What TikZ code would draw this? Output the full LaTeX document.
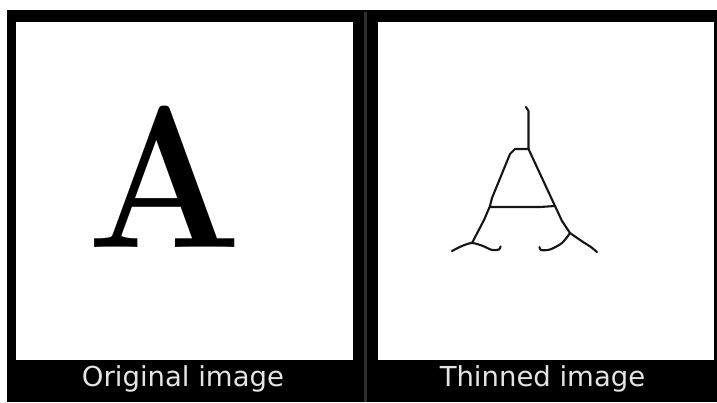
\documentclass[tikz,border=0pt]{standalone}
\usepackage{fontspec}
\usepackage{graphicx}
\setmainfont{DejaVu Sans}
\newfontfamily\bigserif{Latin Modern Roman}
\definecolor{capgray}{HTML}{E4E4E4}
\definecolor{divgray}{HTML}{2E2E2E}
\definecolor{inkc}{HTML}{151515}
\tikzset{
  caption/.style={text=capgray, font=\fontsize{27.5}{30}\selectfont, anchor=base, inner sep=0pt},
  skel/.style={draw=inkc, line width=2.1pt, line join=round, line cap=round},
}
\begin{document}
\begin{tikzpicture}[x=1pt,y=-1pt]
\useasboundingbox (0,0) rectangle (717,402);
\fill[white] (0,0) rectangle (717,402);
% outer black frame
\fill[black] (7,10) rectangle (717,402);
% divider line
\fill[divgray] (363.5,12) rectangle (366.5,402);
% panels
\fill[white] (16,22) rectangle (353,360);
\fill[white] (378,22) rectangle (714,360);
% original letter
\node[anchor=base, inner sep=0pt, text=black, font=\bigserif\bfseries\fontsize{202}{202}\selectfont] (bigA) at (164.5,247) {\scalebox{0.9}[1]{A}};
% thinned skeleton
\draw[skel] (526,107) -- (528.5,111) -- (528.5,149);
\draw[skel] (528.5,149) -- (515,149) -- (510,154) -- (492,198) -- (490,206);
\draw[skel] (528.5,149) -- (555,206);
\draw[skel] (490,207) -- (540,207) -- (555,206);
\draw[skel] (490,206) -- (484,220) -- (472,243);
\draw[skel] plot[smooth] coordinates {(452,251) (462,246) (472,243) (483,246) (492,250) (499,249.5) (500.5,246.5)};
\draw[skel] (555,206) -- (562,221) -- (570,233);
\draw[skel] plot[smooth] coordinates {(570,233) (562,243) (550,249.5) (541,250) (539.5,247)};
\draw[skel] (570,233) -- (583,242) -- (591,247) -- (597,252);
% captions
\node[caption] (cap1) at (183,386.5) {Original image};
\node[caption] (cap2) at (542.5,386.5) {Thinned image};
\end{tikzpicture}
\end{document}
